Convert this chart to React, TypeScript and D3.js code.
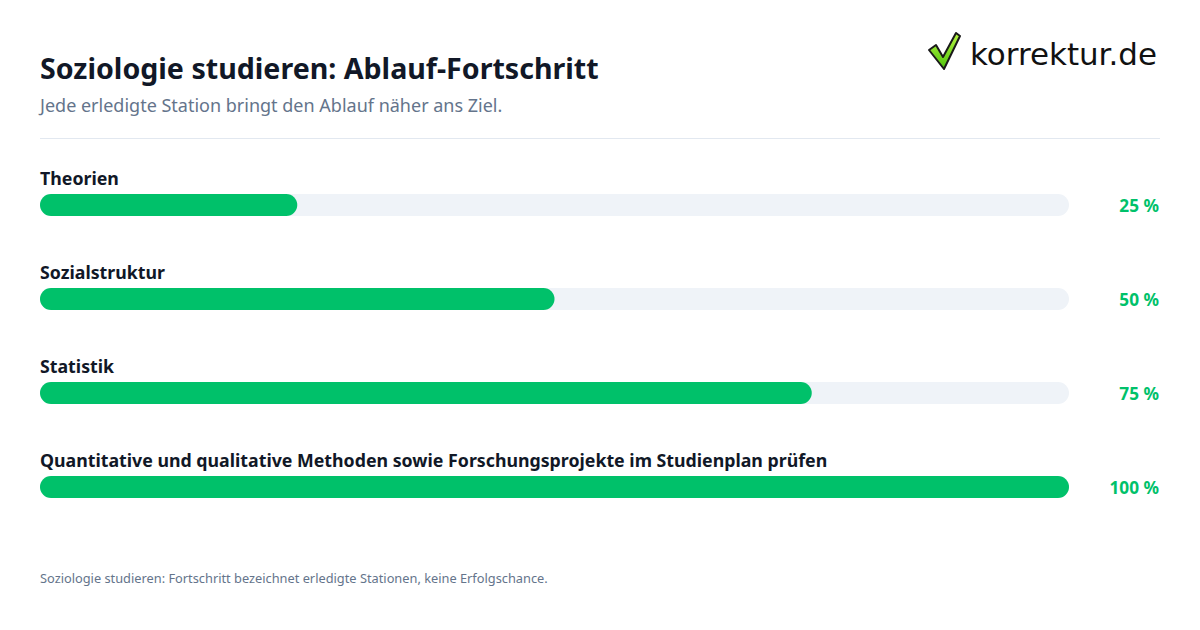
import React from "react";
import * as d3 from "d3";

const categories = [
  "Theorien",
  "Sozialstruktur",
  "Statistik",
  "Quantitative und qualitative Methoden sowie Forschungsprojekte im Studienplan prüfen",
];
const values = [25, 50, 75, 100];

const W = 1200;
const H = 630;
const FONT = "'Noto Sans', 'Open Sans', sans-serif";

export default function App() {
  const x = d3.scaleLinear().domain([0, 100]).range([40, 1069]);
  const y = d3.scaleBand<number>().domain(d3.range(categories.length)).range([160, 536]).padding(0);
  const barH = 22;
  const labelOff = 25;
  const barOff = 34;

  return (
    <svg width={W} height={H} style={{ display: "block", position: "absolute", left: 0, top: 0 }} fontFamily={FONT}>
      <defs>
        <linearGradient id="chk" x1="0" y1="0" x2="0" y2="1">
          <stop offset="0" stopColor="#b8f542" />
          <stop offset="1" stopColor="#4fc40e" />
        </linearGradient>
      </defs>
      <rect width={W} height={H} fill="#ffffff" />
      <text x={40} y={79} fontSize={28.6} fontWeight={700} fill="#111827">
        Soziologie studieren: Ablauf-Fortschritt
      </text>
      <text x={40} y={112} fontSize={18} fill="#64748b">
        Jede erledigte Station bringt den Ablauf näher ans Ziel.
      </text>
      <line x1={40} x2={1160} y1={138.5} y2={138.5} stroke="#e2e8f0" strokeWidth={1} />

      {/* logo */}
      <g>
        <path
          d="M929,50 L936,45 L943,57 L956,33 L960,36 L944,69 Z"
          fill="url(#chk)"
          stroke="#1a1a1a"
          strokeWidth={2}
          strokeLinejoin="round"
        />
        <text
          x={970}
          y={65}
          fontSize={31}
          fill="#111111"
          fontFamily="'DejaVu Sans', sans-serif"
          textLength={187}
          lengthAdjust="spacingAndGlyphs"
        >
          korrektur.de
        </text>
      </g>

      {categories.map((c, i) => {
        const y0 = y(i)!;
        const by = y0 + barOff;
        return (
          <g key={c}>
            <text x={40} y={y0 + labelOff} fontSize={17.75} fontWeight={700} fill="#111827">
              {c}
            </text>
            <rect x={x(0)} y={by} width={x(100) - x(0)} height={barH} rx={barH / 2} fill="#eff3f8" />
            <rect x={x(0)} y={by} width={x(values[i]) - x(0)} height={barH} rx={barH / 2} fill="#00c16a" />
            <text x={1159} y={by + barH / 2 + 7} fontSize={17.2} fontWeight={700} fill="#00c16a" textAnchor="end">
              {values[i]} %
            </text>
          </g>
        );
      })}

      <text x={40} y={583} fontSize={12.8} fill="#64748b">
        Soziologie studieren: Fortschritt bezeichnet erledigte Stationen, keine Erfolgschance.
      </text>
    </svg>
  );
}
